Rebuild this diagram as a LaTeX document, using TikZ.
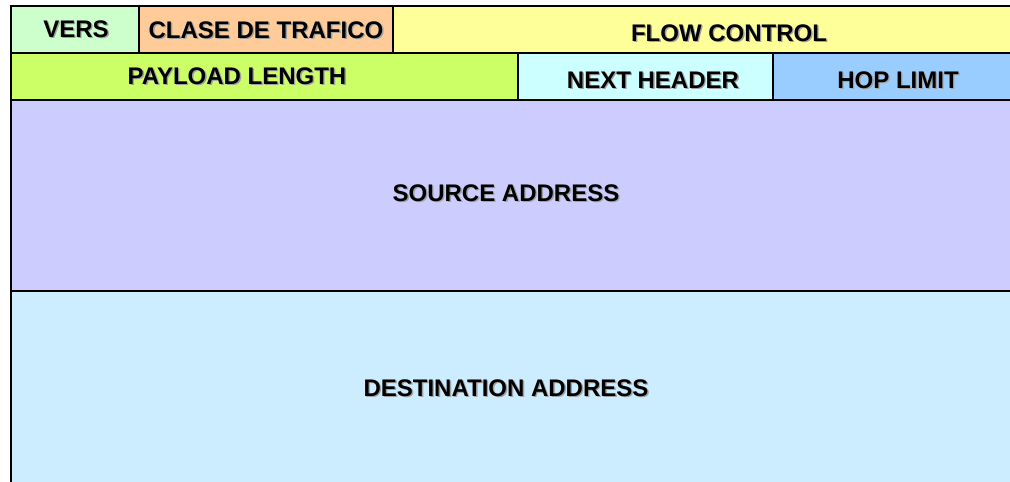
\documentclass[tikz,border=0pt]{standalone}
\usepackage{fontspec}
\setmainfont{Liberation Sans}
\definecolor{cvers}{HTML}{CCFFCC}
\definecolor{cclase}{HTML}{FFCC99}
\definecolor{cflow}{HTML}{FFFF99}
\definecolor{cpay}{HTML}{CCFF66}
\definecolor{cnext}{HTML}{CCFFFF}
\definecolor{chop}{HTML}{99CCFF}
\definecolor{csrc}{HTML}{CCCCFF}
\definecolor{cdst}{HTML}{CCECFF}
\definecolor{cshadow}{HTML}{A0A0A0}
\tikzset{
  cell/.style={draw=black, line width=1.4pt},
  lbl/.style={font=\fontsize{24}{28}\selectfont\bfseries, text=black, inner sep=0pt},
  shd/.style={font=\fontsize{24}{28}\selectfont\bfseries, text=cshadow, inner sep=0pt},
}
\newcommand{\shlabel}[4]{%
  \node[shd] at (#2+1.4,#3-1.4) {#4};
  \node[lbl] (#1) at (#2,#3) {#4};}
\begin{document}
\begin{tikzpicture}[x=1pt,y=1pt]
\useasboundingbox (0,0) rectangle (1010,482);
\clip (0,0) rectangle (1010,482);
% rows: pixel y -> 482 - y
\path[cell, fill=cdst] (11,-5) rectangle (1015,191);
\path[cell, fill=csrc] (11,191) rectangle (1015,382);
\path[cell, fill=cpay] (11,382) rectangle (518,429);
\path[cell, fill=cnext] (518,382) rectangle (773,429);
\path[cell, fill=chop] (773,382) rectangle (1015,429);
\path[cell, fill=cvers] (11,429) rectangle (139,476);
\path[cell, fill=cclase] (139,429) rectangle (393,476);
\path[cell, fill=cflow] (393,429) rectangle (1015,476);
% labels
\shlabel{vers}{76}{453}{VERS}
\shlabel{clase}{266}{452}{CLASE DE TRAFICO}
\shlabel{flow}{729}{449}{FLOW CONTROL}
\shlabel{pay}{237}{406}{PAYLOAD LENGTH}
\shlabel{next}{653}{402}{NEXT HEADER}
\shlabel{hop}{898}{402}{HOP LIMIT}
\shlabel{src}{506}{289}{SOURCE ADDRESS}
\shlabel{dst}{506}{94}{DESTINATION ADDRESS}
\end{tikzpicture}
\end{document}
